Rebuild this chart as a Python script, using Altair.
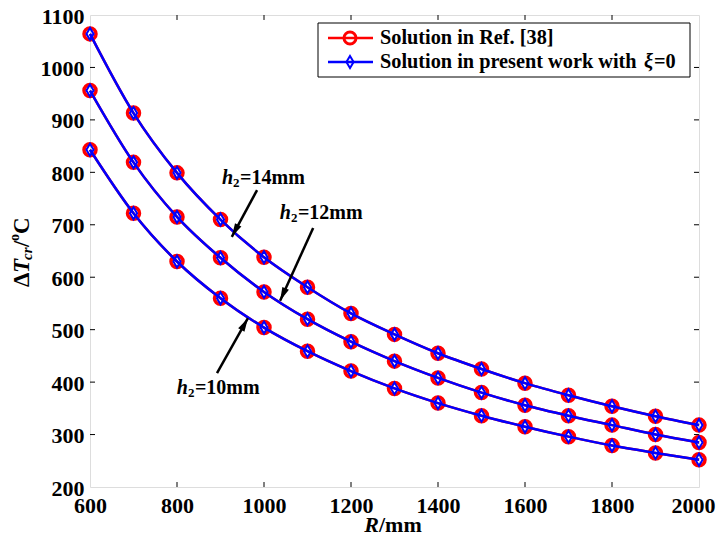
import altair as alt
import pandas as pd

# ---- data ----
R = [600, 700, 800, 900, 1000, 1100, 1200, 1300, 1400, 1500, 1600, 1700, 1800, 1900, 2000]
h14 = [1064, 913, 799, 710, 638, 581, 531, 491, 455, 425, 398, 375, 354, 335, 318]
h12 = [956, 819, 715, 637, 572, 520, 477, 440, 408, 380, 356, 336, 318, 300, 285]
h10 = [843, 722, 630, 560, 504, 459, 421, 388, 360, 336, 315, 296, 279, 265, 252]

x_ticks = [600, 800, 1000, 1200, 1400, 1600, 1800, 2000]
y_ticks = [200, 300, 400, 500, 600, 700, 800, 900, 1000, 1100]

# annotation labels (data coordinates)
ann_text = ["=14mm", "=12mm", "=10mm"]
ann_x = [929, 1062, 825]
ann_y = [789, 722, 389]
arrow_x0 = [984, 1113, 892]
arrow_y0 = [766, 694, 417]
arrow_x1 = [926, 1037, 963]
arrow_y1 = [677, 555, 522]
arrow_angle = [208, 204, 29]

legend_labels = ["Solution in Ref. [38]", "Solution in present work with"]

FONT = "Liberation Serif"

rows = []
for lab, vals in [("14", h14), ("12", h12), ("10", h10)]:
    for r, v in zip(R, vals):
        rows.append({"R": r, "T": v, "case": lab})
df = pd.DataFrame(rows)

xs = alt.Scale(domain=[600, 2000], nice=False)
ys = alt.Scale(domain=[200, 1100], nice=False)
xaxis = alt.Axis(values=x_ticks, title=None, ticks=False, domain=False, grid=False,
                 labelFont=FONT, labelFontSize=22, labelFontWeight="bold", labelColor="black",
                 labelPadding=8, labelFlush=False, format="d",
                 labelOffset={"condition": {"test": "datum.value == 2000", "value": -6},
                              "value": 0})
yaxis = alt.Axis(values=y_ticks, title=None, ticks=False, domain=False, grid=False,
                 labelFont=FONT, labelFontSize=22, labelFontWeight="bold", labelColor="black",
                 labelPadding=6, labelFlush=False, labelBaseline="alphabetic",
                 labelOffset=8, format="d")
X = alt.X("R:Q", scale=xs, axis=xaxis)
Y = alt.Y("T:Q", scale=ys, axis=yaxis)

DIAMOND = "M0,-1L0.6,0L0,1L-0.6,0Z"

base = alt.Chart(df)
red_line = base.mark_line(color="#ff0000", strokeWidth=2.5, interpolate="monotone").encode(
    x=X, y=Y, detail="case:N")
red_pts = base.mark_point(shape="circle", size=144, stroke="#ff0000", strokeWidth=3.5,
                          filled=False, opacity=1).encode(x=X, y=Y)
blue_line = base.mark_line(color="#0000ff", strokeWidth=2.5, interpolate="monotone").encode(
    x=X, y=Y, detail="case:N")
blue_pts = base.mark_point(shape=DIAMOND, size=144, stroke="#0000ff",
                           strokeWidth=2, filled=False, opacity=1).encode(x=X, y=Y)

# inward ticks (matlab-style box)
tk = []
for v in x_ticks[1:-1]:
    tk.append({"R": v, "R2": v, "T": 200, "T2": 209.5})
    tk.append({"R": v, "R2": v, "T": 1100, "T2": 1090.5})
for v in y_ticks[1:-1]:
    tk.append({"R": 600, "R2": 611.5, "T": v, "T2": v})
    tk.append({"R": 2000, "R2": 1988.5, "T": v, "T2": v})
ticks = alt.Chart(pd.DataFrame(tk)).mark_rule(color="black", strokeWidth=1).encode(
    x=X, x2="R2:Q", y=Y, y2="T2:Q")

# annotations
adf = pd.DataFrame({"R": ann_x, "T": ann_y, "txt": ann_text})
h_txt = alt.Chart(adf).mark_text(text="h", font=FONT, fontSize=20, fontWeight="bold",
                                 fontStyle="italic", align="right", baseline="middle",
                                 color="black").encode(x=X, y=Y)
sub_txt = alt.Chart(adf).mark_text(text="2", font=FONT, fontSize=13, fontWeight="bold",
                                   align="left", baseline="middle", dy=5, dx=0,
                                   color="black").encode(x=X, y=Y)
rest_txt = alt.Chart(adf).mark_text(font=FONT, fontSize=20, fontWeight="bold",
                                    align="left", baseline="middle", dx=7,
                                    color="black").encode(x=X, y=Y, text="txt:N")
arr = pd.DataFrame({"R": arrow_x0, "T": arrow_y0, "R2": arrow_x1, "T2": arrow_y1})
shafts = alt.Chart(arr).mark_rule(color="black", strokeWidth=2.5).encode(
    x=X, x2="R2:Q", y=Y, y2="T2:Q")
hdf = pd.DataFrame({"R": arrow_x1, "T": arrow_y1, "ang": arrow_angle})
heads = alt.Chart(hdf).mark_point(shape="M0,0L0.9,3.4L-0.9,3.4Z", size=64, filled=True,
                                  color="black", opacity=1).encode(
    x=X, y=Y, angle=alt.Angle("ang:Q", scale=None))

one = alt.Data(values=[{}])


def txt(text, x, y, size, style="normal", align="left", baseline="middle", angle=0,
        dx=0, dy=0):
    kw = dict(text=text, font=FONT, fontSize=size, fontWeight="bold", fontStyle=style,
              align=align, baseline=baseline, color="black", dx=dx, dy=dy)
    if angle:
        kw["angle"] = angle
    return alt.Chart(one).mark_text(**kw).encode(x=alt.value(x), y=alt.value(y))


# axis titles (rich text: italic / sub / superscript pieces)
YX, YY = -68, 272
ytitle = [
    txt("Δ", YX, YY, 23, angle=270, dx=0),
    txt("T", YX, YY, 23, style="italic", angle=270, dx=14),
    txt("cr", YX, YY, 15, style="italic", angle=270, dx=27, dy=5),
    txt("/", YX, YY, 23, angle=270, dx=40),
    txt("o", YX, YY, 14, angle=270, dx=46, dy=-7),
    txt("C", YX, YY, 23, angle=270, dx=53),
]
xtitle = [
    txt("R", 289, 517, 22, style="italic", align="right", baseline="alphabetic"),
    txt("/mm", 289, 517, 22, baseline="alphabetic"),
]

# legend (layout in pixels, inside the plot area)
leg_box = alt.Chart(one).mark_rect(fill="white", stroke="black", strokeWidth=1).encode(
    x=alt.value(228), x2=alt.value(600), y=alt.value(8), y2=alt.value(62))
leg_l1 = alt.Chart(one).mark_rule(color="#ff0000", strokeWidth=2.5).encode(
    x=alt.value(238), x2=alt.value(283), y=alt.value(23))
leg_p1 = alt.Chart(one).mark_point(shape="circle", size=144, stroke="#ff0000",
                                   strokeWidth=3, filled=False, opacity=1).encode(
    x=alt.value(260), y=alt.value(23))
leg_l2 = alt.Chart(one).mark_rule(color="#0000ff", strokeWidth=2.5).encode(
    x=alt.value(238), x2=alt.value(283), y=alt.value(47))
leg_p2 = alt.Chart(one).mark_point(shape=DIAMOND, size=144,
                                   stroke="#0000ff", strokeWidth=2, filled=False,
                                   opacity=1).encode(x=alt.value(260), y=alt.value(47))
legend = [
    leg_box, leg_l1, leg_l2, leg_p1, leg_p2,
    txt(legend_labels[0], 290, 23, 20.3),
    txt(legend_labels[1], 290, 47, 20.3),
    txt("ξ", 554, 47, 20.3, style="italic"),
    txt("=0", 564, 47, 20.3),
]

chart = alt.layer(
    ticks, red_line, red_pts, blue_line, blue_pts,
    shafts, heads, h_txt, sub_txt, rest_txt,
    *ytitle, *xtitle, *legend,
).properties(
    width=609, height=472,
    autosize=alt.AutoSizeParams(type="none"),
    padding={"left": 82, "top": 7, "right": 17, "bottom": 51},
).configure_view(stroke="black", strokeWidth=1.2).configure(background="white")

chart.save("out.html", embed_options={"renderer": "svg", "actions": False})
